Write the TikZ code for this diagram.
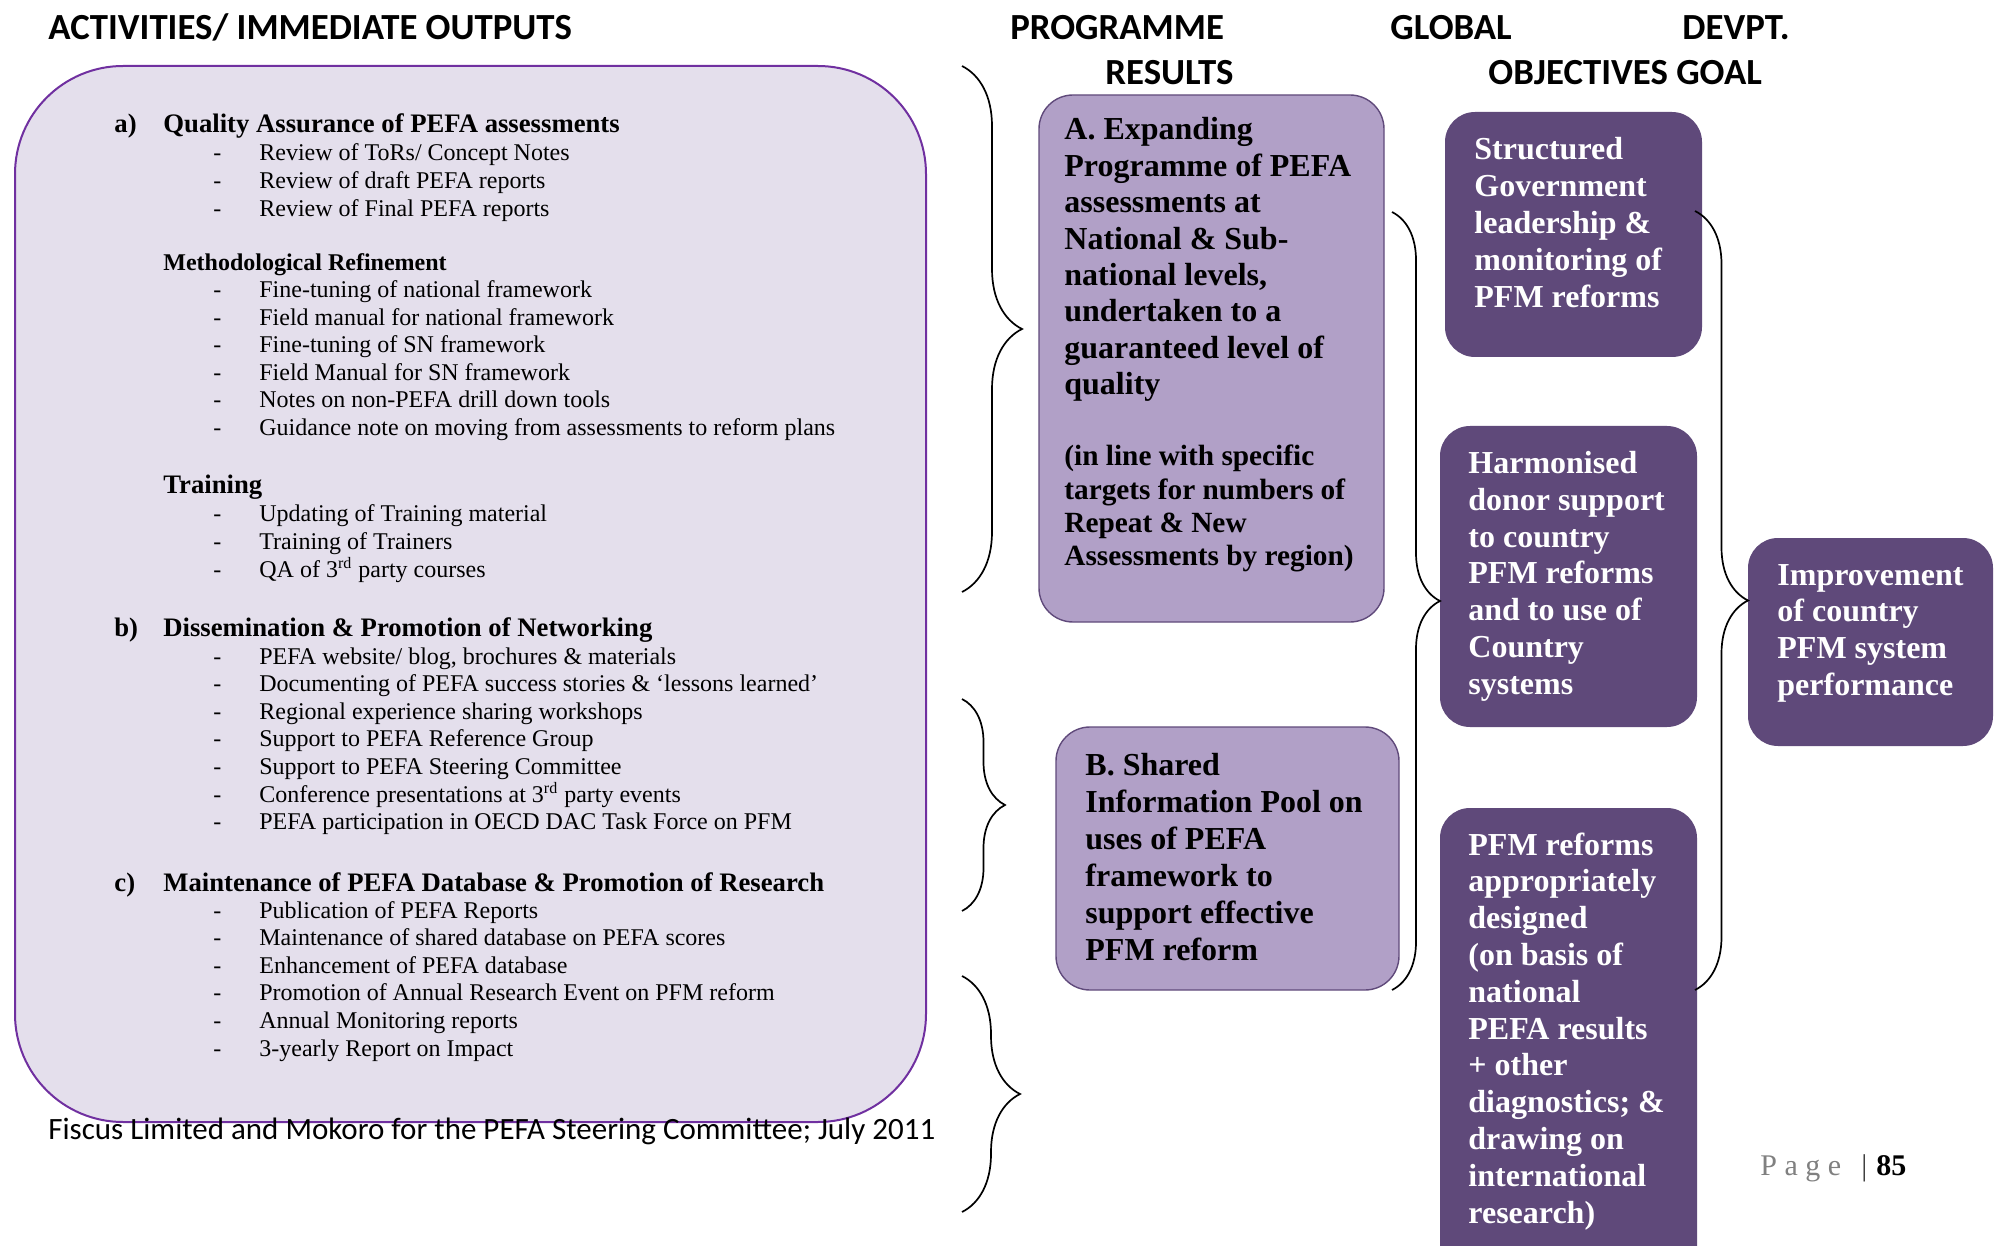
\documentclass[tikz,border=0pt]{standalone}
\usepackage{xcolor}
\usepackage{fontspec}
\setmainfont{Liberation Serif}
\newfontfamily\headfont{Carlito}
\usepackage{tikz}
\usetikzlibrary{fit,decorations.pathreplacing}

\definecolor{actfill}{HTML}{E4DFEC}
\definecolor{actline}{HTML}{7030A0}
\definecolor{resfill}{HTML}{B1A0C7}
\definecolor{resline}{HTML}{604A7B}
\definecolor{objfill}{HTML}{5F497A}

\tikzset{
  heading/.style={anchor=base west, inner sep=0pt, font=\headfont\bfseries\fontsize{18.4}{22}\selectfont},
  topic/.style={anchor=base west, inner sep=0pt, font=\bfseries\fontsize{13.35}{15}\selectfont},
  subtopic/.style={anchor=base west, inner sep=0pt, font=\bfseries\fontsize{12}{14}\selectfont},
  entry/.style={anchor=base west, inner sep=0pt, font=\fontsize{12}{14}\selectfont},
  actbox/.style={draw=actline, line width=1pt, fill=actfill, rounded corners=54pt, inner sep=0pt},
  resbox/.style={draw=resline, line width=0.7pt, fill=resfill, rounded corners=17pt, inner sep=0pt},
  objbox/.style={fill=objfill, rounded corners=15pt, inner sep=0pt},
  restext/.style={anchor=base west, inner sep=0pt, font=\bfseries\fontsize{16}{19}\selectfont},
  objtext/.style={restext, text=white},
  curly/.style={decorate, decoration={brace, amplitude=#1}, line width=0.85pt},
  curly/.default=28pt
}

\begin{document}
\begin{tikzpicture}[x=0.5pt, y=-0.5pt]
\useasboundingbox (0,0) rectangle (1994,1246);

% column headings
\node[heading] (h-act) at (48,40) {ACTIVITIES/ IMMEDIATE OUTPUTS};
\node[heading] (h-prog) at (1010,40) {PROGRAMME};
\node[heading] (h-res) at (1105,85) {RESULTS};
\node[heading] (h-glob) at (1390,40) {GLOBAL};
\node[heading] (h-obj) at (1488,85) {OBJECTIVES GOAL};
\node[heading] (h-dev) at (1682,40) {DEVPT.};

% activities box
\node[actbox, fit={(15,66) (926,1122)}] (act) {};

\node[topic] (qa-no) at (114,133) {a)};
\node[topic] (qa) at (163,133) {Quality Assurance of PEFA assessments};
\foreach \txt [count=\i from 0] in {Review of ToRs/ Concept Notes, Review of draft PEFA reports, Review of Final PEFA reports}{
  \node[entry] (qa-d\i) at (213,161+27.6*\i) {-};
  \node[entry] (qa-\i) at (259,161+27.6*\i) {\txt};
}

\node[subtopic] (meth) at (163,271) {Methodological Refinement};
\foreach \txt [count=\i from 0] in {Fine-tuning of national framework, Field manual for national framework, Fine-tuning of SN framework, Field Manual for SN framework, Notes on non-PEFA drill down tools, Guidance note on moving from assessments to reform plans}{
  \node[entry] (meth-d\i) at (213,297.5+27.6*\i) {-};
  \node[entry] (meth-\i) at (259,297.5+27.6*\i) {\txt};
}

\node[topic] (train) at (163,494) {Training};
\foreach \txt [count=\i from 0] in {Updating of Training material, Training of Trainers, QA of 3\textsuperscript{rd} party courses}{
  \node[entry] (train-d\i) at (213,522+27.6*\i) {-};
  \node[entry] (train-\i) at (259,522+27.6*\i) {\txt};
}

\node[topic] (diss-no) at (114,636) {b)};
\node[topic] (diss) at (163,636) {Dissemination \& Promotion of Networking};
\foreach \txt [count=\i from 0] in {{PEFA website/ blog, brochures \& materials}, Documenting of PEFA success stories \& `lessons learned', Regional experience sharing workshops, Support to PEFA Reference Group, Support to PEFA Steering Committee, Conference presentations at 3\textsuperscript{rd} party events, PEFA participation in OECD DAC Task Force on PFM}{
  \node[entry] (diss-d\i) at (213,664+27.6*\i) {-};
  \node[entry] (diss-\i) at (259,664+27.6*\i) {\txt};
}

\node[topic] (db-no) at (114,891) {c)};
\node[topic] (db) at (163,891) {Maintenance of PEFA Database \& Promotion of Research};
\foreach \txt [count=\i from 0] in {Publication of PEFA Reports, Maintenance of shared database on PEFA scores, Enhancement of PEFA database, Promotion of Annual Research Event on PFM reform, Annual Monitoring reports, 3-yearly Report on Impact}{
  \node[entry] (db-d\i) at (213,918+27.6*\i) {-};
  \node[entry] (db-\i) at (259,918+27.6*\i) {\txt};
}

\node[anchor=base west, inner sep=0pt, font=\headfont\fontsize{15.5}{18}\selectfont] (footer) at (48,1139) {Fiscus Limited and Mokoro for the PEFA Steering Committee; July 2011};

% programme results
\node[resbox, fit={(1039,95) (1384,622)}] (resA) {};
\foreach \txt [count=\i from 0] in {A. Expanding, Programme of PEFA, assessments at, National \& Sub-, {national levels,}, undertaken to a, guaranteed level of, quality}
  \node[restext] (resA-\i) at (1064,140+36.4*\i) {\txt};
\foreach \txt [count=\i from 0] in {{(in line with specific}, {targets for numbers of}, {Repeat \& New}, {Assessments by region)}}
  \node[restext, font=\bfseries\fontsize{14.65}{17}\selectfont] (resA-n\i) at (1064,466+33.3*\i) {\txt};

\node[resbox, fit={(1056,727) (1399,990)}] (resB) {};
\foreach \txt [count=\i from 0] in {B. Shared, Information Pool on, uses of PEFA, framework to, support effective, PFM reform}
  \node[restext] (resB-\i) at (1085,775+37*\i) {\txt};

% global objectives
\node[objbox, fit={(1445,112) (1702,357)}] (lead) {};
\foreach \txt [count=\i from 0] in {Structured, Government, leadership \&, monitoring of, PFM reforms}
  \node[objtext] (lead-\i) at (1474,160+36.8*\i) {\txt};

\node[objbox, fit={(1440,426) (1697,727)}] (donor) {};
\foreach \txt [count=\i from 0] in {Harmonised, donor support, to country, PFM reforms, and to use of, Country, systems}
  \node[objtext] (donor-\i) at (1468,473.5+36.8*\i) {\txt};

\node[objbox, fit={(1440,808) (1697,1290)}] (design) {};
\foreach \txt [count=\i from 0] in {PFM reforms, appropriately, designed, {(on basis of}, national, PEFA results, + other, diagnostics; \&, drawing on, international, {research)}}
  \node[objtext] (design-\i) at (1468,855+36.8*\i) {\txt};

% devpt goal
\node[objbox, fit={(1748,538) (1993,746)}] (goal) {};
\foreach \txt [count=\i from 0] in {Improvement, of country, PFM system, performance}
  \node[objtext] (goal-\i) at (1777,585+36.8*\i) {\txt};

% braces
\coordinate (qa-top) at (962,66);
\coordinate (qa-bot) at (962,592);
\coordinate (diss-top) at (962,699);
\coordinate (diss-bot) at (962,911);
\coordinate (db-top) at (962,976);
\coordinate (db-bot) at (962,1212);
\coordinate (res-top) at (1392,212);
\coordinate (res-bot) at (1392,990);
\coordinate (obj-top) at (1695,211);
\coordinate (obj-bot) at (1695,990);

\draw[curly=30pt] (qa-top) -- (qa-bot);
\draw[curly=21.5pt] (diss-top) -- (diss-bot);
\draw[curly=29pt] (db-top) -- (db-bot);
\draw[curly=24pt] (res-top) -- (res-bot);
\draw[curly=26.5pt] (obj-top) -- (obj-bot);

% page number
\node[anchor=base west, inner sep=0pt, font=\fontsize{15}{18}\selectfont, text=gray] (pg) at (1760,1175) {P a g e};
\node[anchor=base west, inner sep=0pt, font=\fontsize{15}{18}\selectfont, text=darkgray] (pg-bar) at (1861,1175) {|};
\node[anchor=base west, inner sep=0pt, font=\bfseries\fontsize{15}{18}\selectfont] (pg-no) at (1876,1175) {85};
\end{tikzpicture}
\end{document}
